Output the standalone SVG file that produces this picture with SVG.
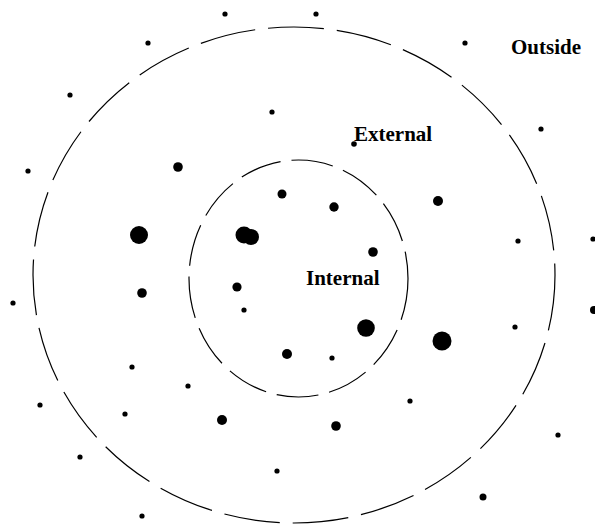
<svg xmlns="http://www.w3.org/2000/svg" width="595" height="524" viewBox="0 0 595 524">
<style>
.ring{fill:none;stroke:#000;stroke-width:1.2}
.outer{stroke-dasharray:56 13}
.inner{stroke-dasharray:42 11}
.lbl{font-family:"Liberation Serif","Times New Roman",serif;font-weight:bold;font-size:21px;fill:#000}
circle.d{fill:#000}
</style>
<rect width="595" height="524" fill="#fff"/>
<g id="rings">
<ellipse id="outer-ring" class="ring outer" cx="294" cy="275" rx="261" ry="248"/>
<ellipse id="inner-ring" class="ring inner" cx="298.5" cy="278.5" rx="109.5" ry="118.5"/>
</g>
<g id="dots">
<circle class="d" cx="225" cy="14" r="2.6"/>
<circle class="d" cx="316" cy="14" r="2.6"/>
<circle class="d" cx="148" cy="43" r="2.6"/>
<circle class="d" cx="465" cy="43" r="2.6"/>
<circle class="d" cx="70" cy="95" r="2.6"/>
<circle class="d" cx="272" cy="112" r="2.6"/>
<circle class="d" cx="541" cy="129" r="2.6"/>
<circle class="d" cx="354" cy="144" r="2.8"/>
<circle class="d" cx="28" cy="171" r="2.6"/>
<circle class="d" cx="178" cy="167" r="4.8"/>
<circle class="d" cx="282" cy="194" r="4.5"/>
<circle class="d" cx="334" cy="207" r="4.7"/>
<circle class="d" cx="438" cy="201" r="5"/>
<circle class="d" cx="139" cy="235" r="9"/>
<circle class="d" cx="244" cy="235" r="8.5"/>
<circle class="d" cx="251" cy="237" r="8"/>
<circle class="d" cx="373" cy="252" r="4.8"/>
<circle class="d" cx="518" cy="241" r="2.6"/>
<circle class="d" cx="593" cy="239" r="2.6"/>
<circle class="d" cx="13" cy="303" r="2.6"/>
<circle class="d" cx="142" cy="293" r="4.8"/>
<circle class="d" cx="237" cy="287" r="4.6"/>
<circle class="d" cx="244" cy="310" r="2.6"/>
<circle class="d" cx="366" cy="328" r="8.8"/>
<circle class="d" cx="332" cy="358" r="2.6"/>
<circle class="d" cx="442" cy="341" r="9.5"/>
<circle class="d" cx="515" cy="327" r="2.6"/>
<circle class="d" cx="594" cy="310" r="4"/>
<circle class="d" cx="287" cy="354" r="5"/>
<circle class="d" cx="132" cy="367" r="2.6"/>
<circle class="d" cx="188" cy="386" r="2.6"/>
<circle class="d" cx="410" cy="401" r="2.6"/>
<circle class="d" cx="40" cy="405" r="2.6"/>
<circle class="d" cx="125" cy="414" r="2.6"/>
<circle class="d" cx="222" cy="420" r="5"/>
<circle class="d" cx="336" cy="426" r="4.8"/>
<circle class="d" cx="558" cy="435" r="2.6"/>
<circle class="d" cx="80" cy="457" r="2.6"/>
<circle class="d" cx="277" cy="471" r="2.6"/>
<circle class="d" cx="483" cy="497" r="3.5"/>
<circle class="d" cx="142" cy="516" r="2.6"/>
</g>
<g id="labels">
<text id="label-outside" class="lbl" x="511" y="54">Outside</text>
<text id="label-external" class="lbl" x="354" y="141">External</text>
<text id="label-internal" class="lbl" x="306" y="285">Internal</text>
</g>
</svg>
